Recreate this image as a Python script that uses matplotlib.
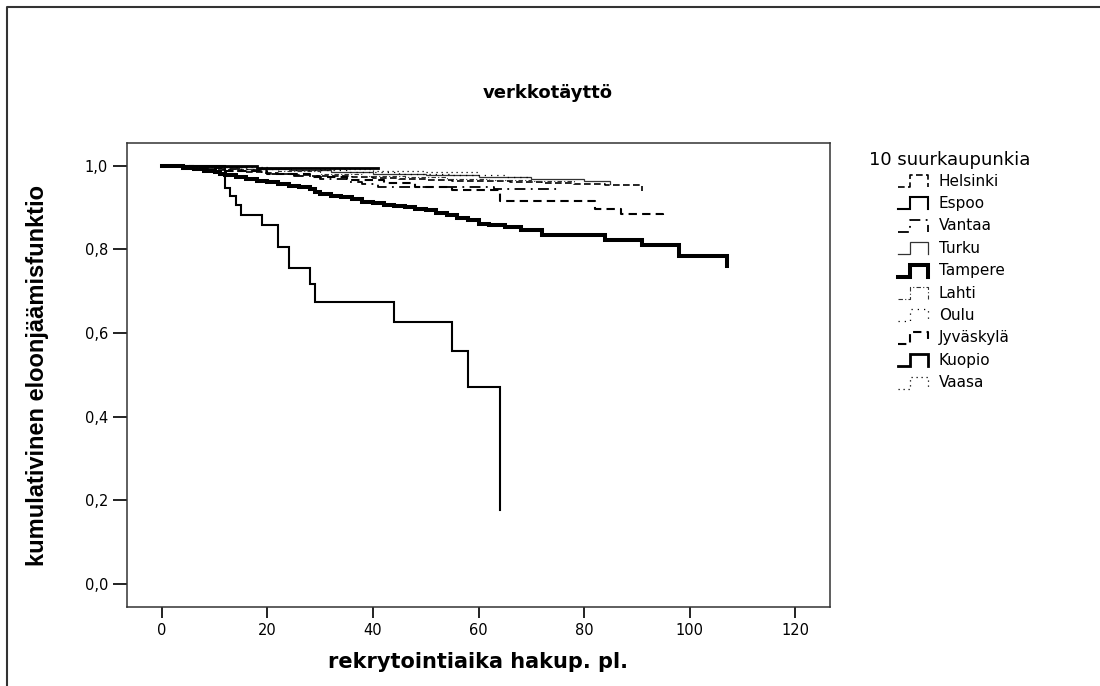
import numpy as np
import matplotlib.pyplot as plt
from matplotlib.lines import Line2D

plt.rcParams['font.family'] = 'DejaVu Sans'

# kaplan-meier steps (time, survival)
cities = ['Helsinki', 'Espoo', 'Vantaa', 'Turku', 'Tampere',
          'Lahti', 'Oulu', 'Jyväskylä', 'Kuopio', 'Vaasa']

helsinki_t = [0, 2, 4, 6, 8, 10, 13, 16, 19, 22, 25, 28, 32, 36, 40, 45, 50, 55, 60, 66, 72, 78, 84, 91]
helsinki_s = [1.0, .998, .996, .994, .992, .990, .988, .985, .982, .980, .978, .976, .974, .972, .970,
              .968, .966, .964, .962, .960, .958, .956, .954, .940]

espoo_t = [0, 12, 13, 14, 15, 19, 22, 24, 28, 29, 44, 55, 58, 64]
espoo_s = [1.0, .946, .928, .906, .882, .858, .806, .755, .717, .673, .627, .557, .470, .177]

vantaa_t = [0, 5, 10, 15, 20, 25, 30, 35, 38, 41, 63, 75]
vantaa_s = [1.0, .996, .991, .986, .980, .974, .968, .961, .955, .949, .944, .944]

turku_t = [0, 8, 16, 24, 32, 40, 50, 60, 70, 80, 85]
turku_s = [1.0, .997, .993, .989, .985, .981, .977, .973, .969, .964, .955]

tampere_t = [0, 2, 4, 6, 8, 10, 11, 12, 14, 16, 18, 20, 22, 24, 26, 28, 29, 30, 32, 34, 36, 38, 40,
             42, 44, 46, 48, 50, 52, 54, 56, 58, 60, 62, 65, 68, 72, 84, 91, 98, 107]
tampere_s = [1.0, .998, .995, .992, .988, .985, .981, .977, .972, .968, .964, .960, .956, .952, .948,
             .943, .937, .932, .928, .924, .919, .914, .910, .907, .904, .900, .897, .893, .887, .881,
             .875, .869, .861, .857, .853, .846, .834, .822, .810, .784, .759]

lahti_t = [0, 6, 14, 22, 30, 38, 46, 54, 62, 70, 78]
lahti_s = [1.0, .996, .991, .986, .981, .976, .972, .968, .965, .962, .960]

oulu_t = [0, 7, 15, 25, 35, 45, 55, 65, 70]
oulu_s = [1.0, .997, .993, .989, .985, .981, .977, .973, .973]

jyvaskyla_t = [0, 6, 12, 20, 28, 35, 42, 48, 55, 64, 82, 87, 95]
jyvaskyla_s = [1.0, .994, .988, .980, .972, .965, .958, .950, .942, .916, .896, .884, .876]

kuopio_t = [0, 18, 41]
kuopio_s = [1.0, .995, .995]

vaasa_t = [0, 10, 20, 30, 40, 50, 60]
vaasa_s = [1.0, .997, .994, .991, .988, .985, .985]

times = [helsinki_t, espoo_t, vantaa_t, turku_t, tampere_t, lahti_t, oulu_t, jyvaskyla_t, kuopio_t, vaasa_t]
survs = [helsinki_s, espoo_s, vantaa_s, turku_s, tampere_s, lahti_s, oulu_s, jyvaskyla_s, kuopio_s, vaasa_s]

linestyles = [(0, (4, 2)), '-', (0, (6, 3, 1, 3)), '-', '-',
              (0, (4, 2, 1, 2)), (0, (1, 4)), (0, (4, 2.5)), '-', (0, (1, 3))]
linewidths = [1.2, 1.5, 1.3, 0.9, 2.9, 0.8, 0.9, 1.5, 2.0, 0.9]
colors = ['black', 'black', 'black', '#333333', 'black', '#333333', 'black', 'black', 'black', 'black']

fig = plt.figure(figsize=(11, 6.86), dpi=100)
ax = fig.add_axes([127/1100, 1 - 607/686, (830 - 127)/1100, (607 - 143)/686])

for t, s, ls, lw, c in zip(times, survs, linestyles, linewidths, colors):
    ax.step(t, s, where='post', color=c, ls=ls, lw=lw, solid_joinstyle='miter')

ax.set_xlim(-6.6, 126.6)
ax.set_ylim(-0.055, 1.054)
ax.set_xticks(np.arange(0, 121, 20))
yt = np.arange(0, 1.01, 0.2)
ax.set_yticks(yt)
ax.set_yticklabels([('%.1f' % v).replace('.', ',') for v in yt])
ax.tick_params(axis='y', length=10, width=1.4, pad=3.6, labelsize=10.5, color='#222222')
ax.tick_params(axis='x', length=7.6, width=1.4, pad=3.6, labelsize=10.5, color='#222222')
for sp in ax.spines.values():
    sp.set_linewidth(1.1)
    sp.set_color('#333333')

def fx(px): return px / 1100
def fy(py): return 1 - py / 686

fig.text(fx(548), fy(93), 'verkkotäyttö', ha='center', va='center', fontsize=13, fontweight='bold')
fig.text(fx(478), fy(662), 'rekrytointiaika hakup. pl.', ha='center', va='center',
         fontsize=15, fontweight='bold')
fig.text(fx(38), fy(375), 'kumulativinen eloonjäämisfunktio', ha='center', va='center', rotation=90,
         fontsize=17, fontweight='bold', family='Liberation Sans')

# legend drawn by hand: step-shaped glyphs like the original
fig.text(fx(869), fy(160), '10 suurkaupunkia', ha='left', va='center', fontsize=13)
for i, name in enumerate(cities):
    yc = 181 + i * 22.4
    gx = [897.7, 910, 910, 927.5, 927.5]
    gy = [yc + 6, yc + 6, yc - 6, yc - 6, yc + 6]
    fig.add_artist(Line2D([fx(v) for v in gx], [fy(v) for v in gy], transform=fig.transFigure,
                          color=colors[i], ls=linestyles[i], lw=linewidths[i], solid_joinstyle='miter'))
    fig.text(fx(939), fy(yc), name, ha='left', va='center', fontsize=11)

# outer frame (left and top only, rest cropped)
fig.add_artist(Line2D([fx(7), fx(7), 1], [0, fy(7), fy(7)], transform=fig.transFigure,
                      color='#333333', lw=1.5))

plt.savefig('out.png', dpi=100)
